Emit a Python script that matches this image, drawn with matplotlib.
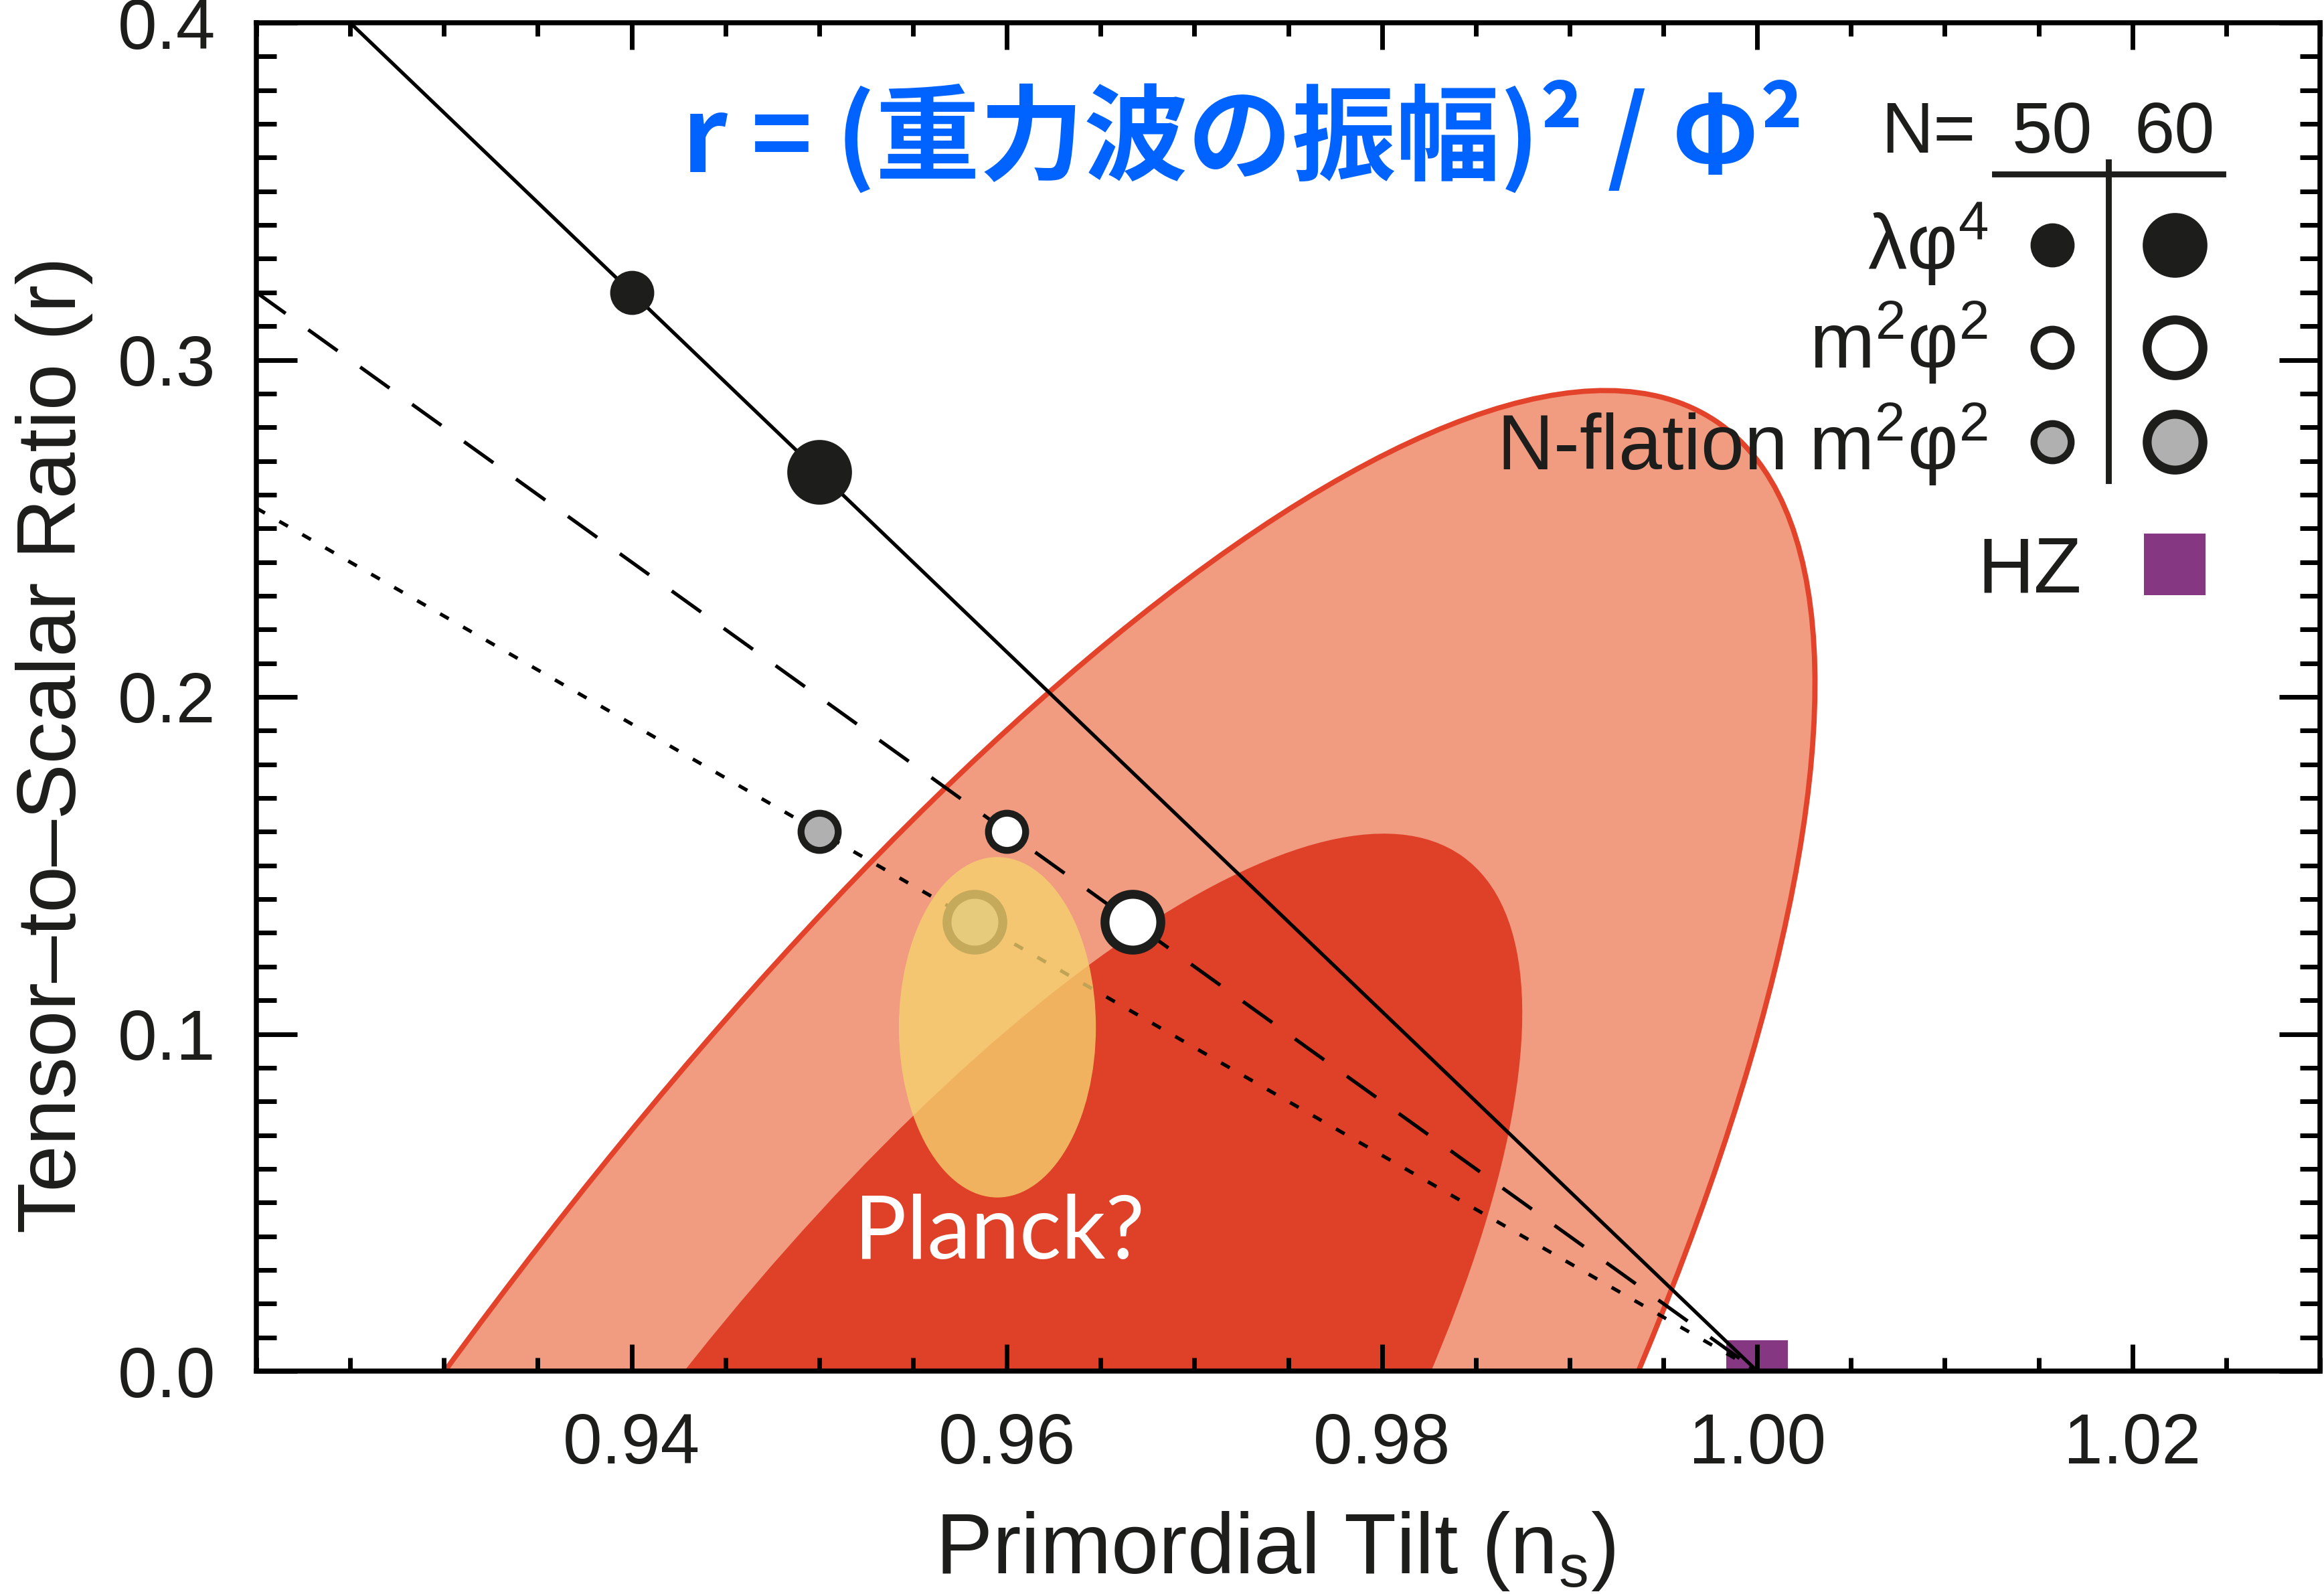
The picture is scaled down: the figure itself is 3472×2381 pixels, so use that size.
import matplotlib
matplotlib.use("Agg")
import matplotlib.pyplot as plt
from matplotlib.patches import Ellipse
from matplotlib.transforms import Affine2D
from matplotlib.ticker import MultipleLocator, FormatStrFormatter

#data--------------------------------------------------------------------------

# model lines (ns, r), they all end at the HZ point
lam_line_ns = [0.925, 1.0]
lam_line_r = [0.4, 0.0]
m2_line_ns = [0.92, 1.0]
m2_line_r = [0.32, 0.0]
nfl_line_ns = [0.92, 1.0]
nfl_line_r = [0.256, 0.0]

# predictions for N = 50, 60
lam_ns = [0.94, 0.95]
lam_r = [0.32, 0.2667]
m2_ns = [0.96, 0.9667]
m2_r = [0.16, 0.1333]
nfl_ns = [0.95, 0.9583]
nfl_r = [0.16, 0.1333]
hz_ns = [1.0]
hz_r = [0.0]

# likelihood contours: centre (ns, r), width/height in r units, tilt (deg)
c95_center = (0.9461, -0.1525)
c95_size = (1.042, 0.321)
c95_angle = 56.5
c68_center = (0.9530, -0.0891)
c68_size = (0.596, 0.198)
c68_angle = 54.2

planck_center = (0.9595, 0.102)
planck_size = (0.0105, 0.101)

xticks = [0.94, 0.96, 0.98, 1.00, 1.02]
yticks = [0.0, 0.1, 0.2, 0.3, 0.4]

#plot--------------------------------------------------------------------------

plt.rcParams['font.family'] = ['Liberation Sans', 'DejaVu Sans']
plt.rcParams['mathtext.default'] = 'regular'

ink = '#1d1d1b'
W, H = 3473 / 200, 2381 / 200
fig = plt.figure(figsize=(W, H), dpi=200)
ax = fig.add_axes([383 / 3473, 333 / 2381, 3083 / 3473, 2014 / 2381])
xlim = (0.92, 1.03)
ylim = (0.0, 0.4)
ax.set_xlim(*xlim)
ax.set_ylim(*ylim)
ax.set_axisbelow(False)

# scale so that the tilted contours can be given in screen-like units
pos = ax.get_position()
k = (pos.width * W / (xlim[1] - xlim[0])) / (pos.height * H / (ylim[1] - ylim[0]))
sq = Affine2D().scale(1 / k, 1) + ax.transData

e95 = Ellipse((c95_center[0] * k, c95_center[1]), c95_size[0], c95_size[1],
              angle=c95_angle, transform=sq, facecolor='#f19b80',
              edgecolor='#e2432a', linewidth=2.8, zorder=1)
e68 = Ellipse((c68_center[0] * k, c68_center[1]), c68_size[0], c68_size[1],
              angle=c68_angle, transform=sq, facecolor='#df4028',
              edgecolor='none', zorder=1.2)
ax.add_patch(e95)
ax.add_patch(e68)

lw = 1.9
ax.plot(lam_line_ns, lam_line_r, color='black', lw=lw, zorder=3)
ax.plot(m2_line_ns, m2_line_r, color='black', lw=lw, dashes=(10.2, 7.9), zorder=3)
ax.plot(nfl_line_ns, nfl_line_r, color='black', lw=lw, dashes=(2.8, 4.7), zorder=3)

ax.plot(hz_ns, hz_r, 's', ms=33, color='#853782', mew=0, zorder=2)

small = dict(ms=20, mew=3.7, mec=ink)
big = dict(ms=30, mew=4.8, mec=ink)

ax.plot(lam_ns[0], lam_r[0], 'o', mfc=ink, zorder=6, **small)
ax.plot(lam_ns[1], lam_r[1], 'o', mfc=ink, zorder=6, **big)
ax.plot(m2_ns[0], m2_r[0], 'o', mfc='white', zorder=6, **small)
ax.plot(m2_ns[1], m2_r[1], 'o', mfc='white', zorder=6, **big)
ax.plot(nfl_ns[0], nfl_r[0], 'o', mfc='#b0b0b0', zorder=6, **small)
ax.plot(nfl_ns[1], nfl_r[1], 'o', mfc='#b0b0b0', zorder=4, **big)

planck = Ellipse(planck_center, planck_size[0], planck_size[1],
                 facecolor='#f6d36f', alpha=0.78, edgecolor='none', zorder=5)
ax.add_patch(planck)
ax.text(0.3602, 0.0834, 'Planck?', transform=ax.transAxes, ha='center',
        va='baseline', color='white', fontsize=47, family='Lato', zorder=7)

ax.text(0.478, 0.915, 'r = (重力波の振幅)² / Φ²', transform=ax.transAxes,
        ha='center', va='center', fontsize=56, fontweight='bold',
        color='#0062ff', family=['Noto Sans CJK JP', 'DejaVu Sans'], zorder=7)

# hand made key
tA = ax.transAxes
col1, col2 = 0.8703, 0.9296
rows = [0.8351, 0.7592, 0.6892]
ax.text(0.8333, 0.9037, 'N=', transform=tA, ha='right', va='baseline', fontsize=39, color=ink)
ax.text(col1, 0.9037, '50', transform=tA, ha='center', va='baseline', fontsize=39, color=ink)
ax.text(col2, 0.9037, '60', transform=tA, ha='center', va='baseline', fontsize=39, color=ink)
ax.plot([0.8424, 0.9530], [0.8878, 0.8878], color=ink, lw=3.2, transform=tA, clip_on=False)
ax.plot([0.8975, 0.8975], [0.8967, 0.6604], color=ink, lw=3.2, transform=tA, clip_on=False)

fills = [ink, 'white', '#b0b0b0']
names = ['λφ$^4$', 'm$^2$φ$^2$', 'N-flation m$^2$φ$^2$']
bases = [0.8168, 0.7438, 0.6683]
for y, fc, name, b in zip(rows, fills, names, bases):
    ax.plot(col1, y, 'o', mfc=fc, transform=tA, clip_on=False, zorder=6, **small)
    ax.plot(col2, y, 'o', mfc=fc, transform=tA, clip_on=False, zorder=6, **big)
    ax.text(0.839, b, name, transform=tA, ha='right', va='baseline', fontsize=42, color=ink)
ax.plot(col2, 0.5983, 's', ms=33, color='#853782', mew=0, transform=tA, clip_on=False)
ax.text(0.8845, 0.5775, 'HZ', transform=tA, ha='right', va='baseline', fontsize=42, color=ink)

# axes style
for s in ax.spines.values():
    s.set_linewidth(2.7)
    s.set_color('black')
ax.set_xticks(xticks)
ax.set_yticks(yticks)
ax.xaxis.set_minor_locator(MultipleLocator(0.005))
ax.yaxis.set_minor_locator(MultipleLocator(0.01))
ax.xaxis.set_major_formatter(FormatStrFormatter('%.2f'))
ax.yaxis.set_major_formatter(FormatStrFormatter('%.1f'))
ax.tick_params(axis='x', which='major', direction='in', length=14.4, width=2.5,
               top=True, pad=22, labelsize=38, labelcolor=ink)
ax.tick_params(axis='x', which='minor', direction='in', length=7.2, width=2.5, top=True)
ax.tick_params(axis='y', which='major', direction='in', length=22, width=2.5,
               right=True, pad=22, labelsize=38, labelcolor=ink)
ax.tick_params(axis='y', which='minor', direction='in', length=10.8, width=2.5, right=True)

ax.set_xlabel('Primordial Tilt (n$_s$)', fontsize=46, color=ink)
ax.set_ylabel('Tensor–to–Scalar Ratio (r)', fontsize=45, color=ink)
ax.xaxis.set_label_coords(0.4937, -0.103)
ax.yaxis.set_label_coords(-0.079, 0.4647)

fig.savefig('out.png', dpi=200)
